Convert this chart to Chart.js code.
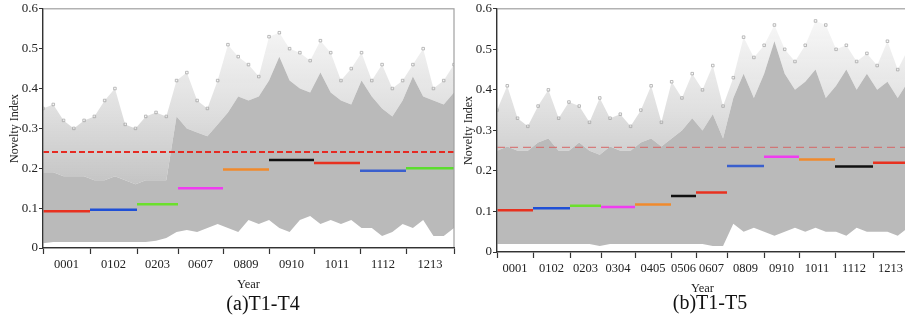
<!DOCTYPE html>
<html>
<head>
<meta charset="utf-8">
<script src="https://cdn.jsdelivr.net/npm/chart.js@4.4.0/dist/chart.umd.min.js"></script>
<style>
  html, body { margin: 0; padding: 0; background: #fff; width: 905px; height: 322px; overflow: hidden; }
  .panel { position: absolute; top: 0; width: 462px; height: 322px; }
  .cap { position: absolute; font-family: "Liberation Serif", serif; font-size: 20px; color: #111;
         white-space: nowrap; transform: translateX(-50%); }
</style>
</head>
<body>
<div class="panel" style="left:0"><canvas id="chartA"></canvas></div>
<div class="panel" style="left:454px"><canvas id="chartB"></canvas></div>
<div class="cap" style="left:263px;top:292px">(a)T1-T4</div>
<div class="cap" style="left:710px;top:291px">(b)T1-T5</div>
<script>
// ---- panel (a) T1-T4 ----
const yearsA = ['0001', '0102', '0203', '0607', '0809', '0910', '1011', '1112', '1213'];
// year boundaries along the sample axis (arbitrary sample units)
const boundsA = [0, 47, 94, 135, 180, 226, 271, 317, 363, 411];
const meanA = [0.092, 0.096, 0.110, 0.150, 0.197, 0.221, 0.213, 0.194, 0.200];
const thresholdA = 0.241;
// envelope of the point cloud, 41 evenly spaced samples
const lowA = [0.012, 0.015, 0.015, 0.015, 0.015, 0.015, 0.015, 0.015, 0.015, 0.015, 0.015, 0.018, 0.025,
  0.04, 0.045, 0.04, 0.05, 0.06, 0.05, 0.04, 0.07,
  0.06, 0.07, 0.05, 0.04, 0.07, 0.08, 0.06, 0.07, 0.06, 0.07, 0.05, 0.05, 0.03, 0.04, 0.06, 0.05, 0.07, 0.03, 0.03, 0.05];
const coreA = [0.19, 0.19, 0.18, 0.18, 0.18, 0.17, 0.17, 0.18, 0.17, 0.16, 0.17, 0.17, 0.17,
  0.33, 0.30, 0.29, 0.28, 0.31, 0.34, 0.38, 0.37,
  0.38, 0.42, 0.48, 0.42, 0.40, 0.39, 0.44, 0.39, 0.37, 0.36, 0.42, 0.38, 0.35, 0.33, 0.37, 0.43, 0.38, 0.37, 0.36, 0.39];
const peakA = [0.35, 0.36, 0.32, 0.30, 0.32, 0.33, 0.37, 0.40, 0.31, 0.30, 0.33, 0.34, 0.33,
  0.42, 0.44, 0.37, 0.35, 0.42, 0.51, 0.48, 0.46,
  0.43, 0.53, 0.54, 0.50, 0.49, 0.47, 0.52, 0.49, 0.42, 0.45, 0.49, 0.42, 0.46, 0.40, 0.42, 0.46, 0.50, 0.40, 0.42, 0.46];
const colorsA = ['#e8311f', '#1f4fd6', '#6be02c', '#f03cf0', '#f08a2c', '#111111', '#e8311f', '#3a5fcd', '#5cdd2e'];

// ---- panel (b) T1-T5 ----
const yearsB = ['0001', '0102', '0203', '0304', '0405', '0506', '0607', '0809', '0910', '1011', '1112', '1213'];
const boundsB = [0, 36, 73, 104, 138, 174, 199, 230, 267, 302, 338, 376, 411];
const meanB = [0.103, 0.108, 0.114, 0.111, 0.117, 0.138, 0.147, 0.212, 0.235, 0.228, 0.211, 0.220];
const thresholdB = 0.258;
const lowB = [0.02, 0.02, 0.02, 0.02, 0.02, 0.02, 0.02, 0.02, 0.02, 0.02, 0.015, 0.02, 0.02, 0.02, 0.02, 0.02, 0.02, 0.02, 0.02, 0.02,
  0.02, 0.015, 0.015, 0.07, 0.05, 0.06, 0.05, 0.04, 0.05, 0.06, 0.05, 0.06, 0.05, 0.05, 0.04, 0.06, 0.05, 0.05, 0.05, 0.04, 0.06];
const coreB = [0.25, 0.26, 0.25, 0.25, 0.27, 0.28, 0.25, 0.25, 0.27, 0.25, 0.24, 0.26, 0.25, 0.25, 0.27, 0.28, 0.26, 0.28, 0.30, 0.33,
  0.30, 0.34, 0.28, 0.38, 0.44, 0.38, 0.44, 0.52, 0.44, 0.40, 0.42, 0.45, 0.38, 0.41, 0.45, 0.40, 0.44, 0.40, 0.42, 0.38, 0.42];
const peakB = [0.35, 0.41, 0.33, 0.31, 0.36, 0.40, 0.33, 0.37, 0.36, 0.32, 0.38, 0.33, 0.34, 0.31, 0.35, 0.41, 0.32, 0.42, 0.38, 0.44,
  0.40, 0.46, 0.36, 0.43, 0.53, 0.48, 0.51, 0.56, 0.50, 0.47, 0.51, 0.57, 0.56, 0.50, 0.51, 0.47, 0.49, 0.46, 0.52, 0.45, 0.50];
const colorsB = ['#e8311f', '#1f4fd6', '#6be02c', '#f03cf0', '#f08a2c', '#111111', '#e8311f', '#3a5fcd', '#f03cf0', '#f08a2c', '#111111', '#e8311f'];

const serif = '"Liberation Serif", "Times New Roman", serif';
const gray = 'rgb(186,186,186)';

// sparse part of the cloud fades out upward
function fade(ctx) {
  const chart = ctx.chart;
  if (!chart.chartArea) return 'rgba(186,186,186,0.4)';
  const y = chart.scales.y;
  const g = chart.ctx.createLinearGradient(0, y.getPixelForValue(0.16), 0, y.getPixelForValue(0.58));
  g.addColorStop(0, 'rgba(186,186,186,0.85)');
  g.addColorStop(0.45, 'rgba(186,186,186,0.45)');
  g.addColorStop(1, 'rgba(186,186,186,0.1)');
  return g;
}

const frame = {
  id: 'frame',
  afterDatasetsDraw(chart) {
    const { ctx, chartArea: a } = chart;
    ctx.save();
    ctx.strokeStyle = '#a0a0a0';
    ctx.lineWidth = 1.2;
    ctx.strokeRect(a.left, a.top, a.right - a.left, a.bottom - a.top);
    ctx.restore();
  }
};

function cloud(low, core, peak, span) {
  const step = span / (low.length - 1);
  const pts = arr => arr.map((v, i) => ({ x: i * step, y: v }));
  return [
    { data: pts(low), borderWidth: 0, pointRadius: 0, fill: false, order: 5 },
    { data: pts(core), borderWidth: 0, pointRadius: 0, fill: '-1', backgroundColor: gray, order: 5 },
    { data: pts(peak), borderWidth: 0, pointRadius: 1.8, pointStyle: 'rect', pointBorderWidth: 1,
      pointBorderColor: 'rgba(170,170,170,0.8)', pointBackgroundColor: 'rgba(0,0,0,0)',
      fill: '-1', backgroundColor: fade, order: 5 }
  ];
}

function makeChart(id, years, bounds, means, colors, threshold, dash, low, core, peak, padBottom) {
  const span = bounds[bounds.length - 1];
  const tickList = [];
  bounds.forEach(b => tickList.push({ value: b, label: '' }));
  years.forEach((y, i) => tickList.push({ value: (bounds[i] + bounds[i + 1]) / 2, label: y }));
  tickList.sort((a, b) => a.value - b.value);

  const datasets = cloud(low, core, peak, span);
  years.forEach((y, i) => {
    datasets.push({
      data: [{ x: bounds[i], y: means[i] }, { x: bounds[i + 1], y: means[i] }],
      borderColor: colors[i], borderWidth: 2.5, pointRadius: 0, fill: false, order: 1
    });
  });
  datasets.push({
    data: [{ x: 0, y: threshold }, { x: span, y: threshold }],
    borderColor: dash.color, borderWidth: dash.width, borderDash: dash.pattern,
    pointRadius: 0, fill: false, order: 0
  });

  new Chart(document.getElementById(id), {
    type: 'line',
    data: { datasets: datasets },
    options: {
      responsive: true,
      maintainAspectRatio: false,
      animation: false,
      layout: { padding: { left: 6, right: 8, top: 7, bottom: padBottom } },
      plugins: { legend: { display: false }, tooltip: { enabled: false } },
      elements: { line: { tension: 0 } },
      scales: {
        x: {
          type: 'linear', min: 0, max: span,
          afterBuildTicks: s => { s.ticks = tickList.map(t => ({ value: t.value })); },
          ticks: {
            autoSkip: false, maxRotation: 0, padding: 3, color: '#222',
            font: { family: serif, size: 12.5 },
            callback: (v, i) => tickList[i].label
          },
          grid: {
            drawOnChartArea: false, tickLength: 6, tickWidth: 1.2,
            tickColor: ctx => (tickList[ctx.index] && tickList[ctx.index].label) ? 'rgba(0,0,0,0)' : '#333'
          },
          border: { color: '#333', width: 1.2, z: 1 },
          title: { display: true, text: 'Year', color: '#222', font: { family: serif, size: 12.5 },
                   padding: { top: 2, bottom: 2 } }
        },
        y: {
          min: 0, max: 0.6,
          afterFit: s => { s.width = 37; },
          ticks: {
            stepSize: 0.1, padding: 1, color: '#222',
            font: { family: serif, size: 13 },
            callback: v => v === 0 ? '0' : v.toFixed(1)
          },
          grid: { drawOnChartArea: false, tickLength: 4, tickColor: '#333' },
          border: { color: '#333', width: 1.2, z: 1 },
          title: { display: true, text: 'Novelty Index', color: '#222', font: { family: serif, size: 12 },
                   padding: { top: 2, bottom: 0 } }
        }
      }
    },
    plugins: [frame]
  });
}

makeChart('chartA', yearsA, boundsA, meanA, colorsA, thresholdA,
  { color: '#e52a22', width: 2, pattern: [6, 3] }, lowA, coreA, peakA, 28);
makeChart('chartB', yearsB, boundsB, meanB, colorsB, thresholdB,
  { color: 'rgba(215,95,95,0.75)', width: 1.2, pattern: [8, 5] }, lowB, coreB, peakB, 24);
</script>
</body>
</html>
